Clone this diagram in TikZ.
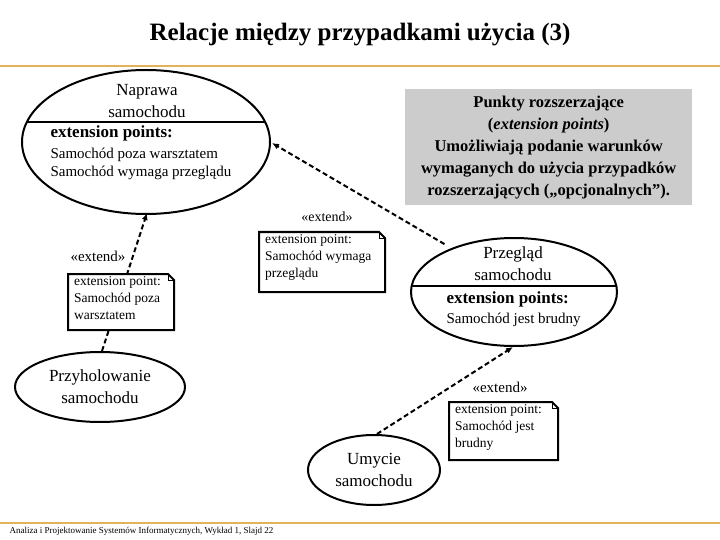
\documentclass[tikz,border=0pt]{standalone}
\usepackage{fontspec}
\setmainfont{Liberation Serif}
\usetikzlibrary{shapes.geometric,arrows.meta}
\definecolor{rule}{RGB}{226,178,92}
\definecolor{panel}{RGB}{204,204,204}
\tikzset{>={Latex[length=7pt,width=6pt]}}

\begin{document}
\begin{tikzpicture}[x=1pt,y=-1pt]
    \tikzset{usecase/.style = {ellipse, draw, line width=2pt, inner sep=0pt},
             note/.style = {font=\fontsize{13.5}{17}\selectfont, align=left, anchor=north west, inner sep=0pt},
             ext/.style = {dash pattern=on 5pt off 3pt, line width=2pt, ->},
             big/.style = {font=\fontsize{17}{22}\selectfont}}
    \useasboundingbox (0,0) rectangle (720,540);
    % title and frame lines
    \node[font=\fontsize{25}{29}\selectfont\bfseries] (title) at (360,35) {Relacje między przypadkami użycia (3)};
    \draw[rule, line width=1.2pt] (0,66) -- (720,66);
    \draw[rule, line width=1.2pt] (0,523) -- (720,523);
    \node[font=\fontsize{9}{10}\selectfont, anchor=west] (foot) at (6,531) {Analiza i Projektowanie Systemów Informatycznych, Wykład 1, Slajd 22};
    % panel
    \node[fill=panel, minimum width=287pt, minimum height=116pt, anchor=north west] (panel) at (405,89) {};
    \node[font=\fontsize{16.5}{22}\selectfont\bfseries, align=center] (paneltext) at (panel.center)
        {Punkty rozszerzające\\(\textit{extension points})\\Umożliwiają podanie warunków\\wymaganych do użycia przypadków\\rozszerzających („opcjonalnych”).};
    % use cases
    \node[usecase, minimum width=248pt, minimum height=144pt] (naprawa) at (146,142) {};
    \draw[line width=2pt] (27,122) -- (265,122);
    \node[big, align=center] (naprawaname) at (147,101) {Naprawa\\samochodu};
    \node[anchor=west, font=\fontsize{17}{22}\selectfont\bfseries] (naprawaext) at (47,133) {extension points:};
    \node[anchor=north west, align=left, font=\fontsize{15}{18}\selectfont] (naprawapts) at (47,145) {Samochód poza warsztatem\\Samochód wymaga przeglądu};
    \node[usecase, minimum width=206pt, minimum height=108pt] (przeglad) at (514,292) {};
    \draw[line width=2pt] (412,286) -- (616,286);
    \node[big, align=center] (przegladname) at (513,264) {Przegląd\\samochodu};
    \node[anchor=west, font=\fontsize{17}{22}\selectfont\bfseries] (przegladext) at (443,299) {extension points:};
    \node[anchor=west, font=\fontsize{15}{18}\selectfont] (przegladpts) at (443,320) {Samochód jest brudny};
    \node[usecase, minimum width=170pt, minimum height=70pt, big, align=center] (holowanie) at (100,387) {Przyholowanie\\samochodu};
    \node[usecase, minimum width=132pt, minimum height=70pt, big, align=center] (umycie) at (374,470) {Umycie\\samochodu};
    % extend relations
    \draw[ext] (holowanie.north) ++(2,0) -- (147,213);
    \draw[ext] (przeglad.north west) ++(4,-9) -- (272,143);
    \draw[ext] (umycie.north) ++(3,0) -- (513,347);
    % notes
    \foreach \name/\x/\y/\w/\h/\txt in {poza/68/274/106/56/{extension point:\\Samochód poza\\warsztatem},
                                        wymaga/259/232/126/60/{extension point:\\Samochód wymaga\\przeglądu},
                                        brudny/449/402/109/58/{extension point:\\Samochód jest\\brudny}} {
        \filldraw[fill=white, line width=2pt] (\x,\y) -- ++(\w-6,0) -- ++(6,6) -- ++(0,\h-6) -- ++(-\w,0) -- cycle;
        \draw[line width=1pt] (\x+\w-6,\y) -- ++(0,6) -- ++(6,0);
        \node[note] (\name) at (\x+6,\y+2) {\txt};
    }
    % stereotypes
    \node[font=\fontsize{15}{16}\selectfont] (ext1) at (98,256) {«extend»};
    \node[font=\fontsize{14}{16}\selectfont] (ext2) at (327,217) {«extend»};
    \node[font=\fontsize{15}{16}\selectfont] (ext3) at (500,387) {«extend»};
\end{tikzpicture}
\end{document}
